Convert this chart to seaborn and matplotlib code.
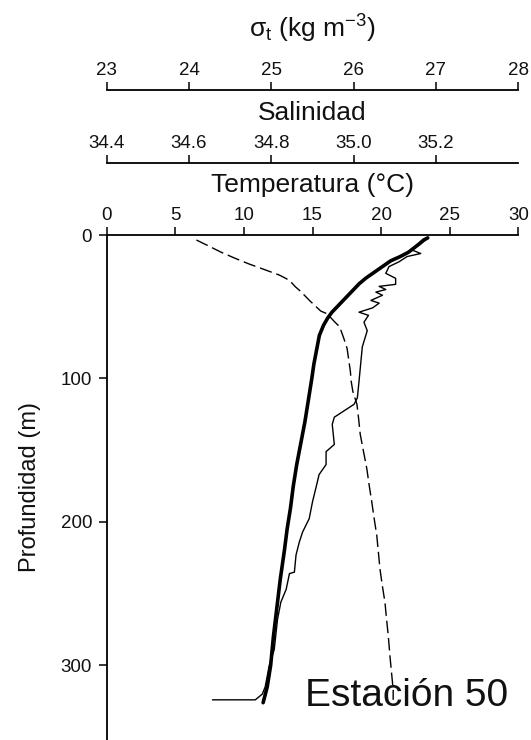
import matplotlib
matplotlib.use("Agg")
import matplotlib.pyplot as plt
import matplotlib.ticker as mticker
import seaborn as sns
import pandas as pd

# ---------------- data ----------------
depth_temp = [2, 3.5, 6, 9, 12, 15, 18, 22, 26, 30, 34, 38, 42, 46, 50, 54, 58, 63, 70, 80,
              90, 100, 115, 130, 145, 160, 175, 190, 205, 220, 240, 260, 280, 300, 315, 326]
temperatura = [23.4, 23.1, 22.8, 22.4, 22.0, 21.4, 20.7, 20.1, 19.5, 18.9, 18.4, 18.0, 17.6, 17.2,
               16.8, 16.4, 16.1, 15.8, 15.5, 15.3, 15.1, 14.95, 14.7, 14.45, 14.15, 13.85, 13.6,
               13.4, 13.15, 12.95, 12.65, 12.4, 12.15, 11.95, 11.7, 11.4]

depth_sal = [3.5, 7, 10.5, 12.9, 15, 18.7, 22, 26.7, 30.2, 34.4, 35.8, 38, 39.8, 42, 45.6, 47.5,
             50.8, 53.8, 56, 60.8, 66.7, 78, 90, 102, 113.5, 118, 127, 132, 146, 151, 160, 167,
             176.6, 186, 197.7, 207, 214, 223, 235, 236, 247, 256, 268, 289, 300, 315, 320, 324, 324]
salinidad = [35.175, 35.159, 35.142, 35.163, 35.13, 35.11, 35.086, 35.078, 35.102, 35.102, 35.062,
             35.078, 35.054, 35.07, 35.042, 35.062, 35.046, 35.013, 35.036, 35.025, 35.033, 35.021,
             35.017, 35.013, 35.009, 35.001, 34.953, 34.948, 34.953, 34.933, 34.933, 34.916, 34.908,
             34.90, 34.892, 34.876, 34.868, 34.86, 34.856, 34.844, 34.836, 34.823, 34.815, 34.807,
             34.795, 34.785, 34.778, 34.761, 34.657]

depth_sigma = [3.5, 8, 12, 16, 20, 24.6, 28, 31.6, 36, 39, 46, 53, 55, 60, 64, 72, 79, 87, 95,
               102, 109, 118, 128, 139, 151, 163, 175, 186, 198, 209, 221, 233, 245, 256, 268, 279,
               293, 305, 317, 324]
sigma_t = [24.09, 24.25, 24.39, 24.55, 24.72, 24.94, 25.10, 25.22, 25.29, 25.35, 25.47, 25.60, 25.68,
           25.76, 25.83, 25.88, 25.92, 25.94, 25.96, 25.97, 25.99, 26.04, 26.06, 26.08, 26.12, 26.16,
           26.19, 26.22, 26.25, 26.28, 26.30, 26.32, 26.35, 26.38, 26.40, 26.42, 26.44, 26.46, 26.48,
           26.48]

temp_ticks = [0, 5, 10, 15, 20, 25, 30]
sal_ticks = [34.4, 34.6, 34.8, 35.0, 35.2]
sigma_ticks = [23, 24, 25, 26, 27, 28]
depth_ticks = [0, 100, 200, 300]

df_t = pd.DataFrame({"depth": depth_temp, "val": temperatura})
df_s = pd.DataFrame({"depth": depth_sal, "val": salinidad})
df_g = pd.DataFrame({"depth": depth_sigma, "val": sigma_t})

# ---------------- style ----------------
sns.set_theme(style="white")
plt.rcParams["font.family"] = ["Liberation Sans", "DejaVu Sans"]
plt.rcParams["mathtext.fontset"] = "custom"
plt.rcParams["mathtext.rm"] = "Liberation Sans"
plt.rcParams["mathtext.it"] = "Liberation Sans:italic"
plt.rcParams["mathtext.default"] = "regular"

W, H = 531, 740
fig = plt.figure(figsize=(W / 100, H / 100), dpi=100)
ax_left, ax_w = 106.7 / W, 411.6 / W
ax_h = 505 / H
ax = fig.add_axes([ax_left, 0.0, ax_w, ax_h])

tick_kw = dict(colors="black", labelcolor="#111111", labelsize=13.5, width=1.1)

# temperature (main axis)
sns.lineplot(data=df_t, x="val", y="depth", sort=False, estimator=None,
             color="black", lw=2.6, ax=ax)
ax.set_xlim(0, 30)
ax.set_ylim(352, 0)

# salinity
ax_s = ax.twiny()
sns.lineplot(data=df_s, x="val", y="depth", sort=False, estimator=None,
             color="black", lw=1.0, ax=ax_s)
ax_s.set_xlim(34.4, 35.4)
ax_s.set_ylim(352, 0)

# sigma-t
ax_g = ax.twiny()
sns.lineplot(data=df_g, x="val", y="depth", sort=False, estimator=None,
             color="black", lw=1.0, ax=ax_g)
ax_g.lines[0].set_dashes((9, 3.5))
ax_g.set_xlim(23, 28)
ax_g.set_ylim(352, 0)

# main axis formatting (after twins, which reset main ticks to bottom)
ax.xaxis.tick_top()
ax.set_xticks(temp_ticks)
ax.set_yticks(depth_ticks)
ax.tick_params(axis="x", which="both", top=True, bottom=False, labeltop=True,
               labelbottom=False, direction="out", length=6, pad=2, **tick_kw)
ax.tick_params(axis="y", left=True, direction="out", length=5.5, pad=5, **tick_kw)
for s in ["right", "bottom"]:
    ax.spines[s].set_visible(False)
for s in ["left", "top"]:
    ax.spines[s].set_color("black")
    ax.spines[s].set_linewidth(1.3)
ax.set_xlabel("")
ax.set_ylabel("Profundidad (m)", fontsize=17, labelpad=14, color="#111111")

ax_s.xaxis.set_major_locator(mticker.FixedLocator(sal_ticks))
ax_s.xaxis.set_major_formatter(mticker.FormatStrFormatter("%.1f"))
ax_s.tick_params(axis="x", top=True, bottom=False, labeltop=True, labelbottom=False,
                 direction="out", length=6, pad=2, **tick_kw)
for s in ["right", "bottom", "left"]:
    ax_s.spines[s].set_visible(False)
ax_s.spines["top"].set_position(("axes", 1 + 72 / 505))
ax_s.spines["top"].set_color("black")
ax_s.spines["top"].set_linewidth(1.3)
ax_s.set_xlabel("")
ax_s.set_ylabel("")

ax_g.set_xticks(sigma_ticks)
ax_g.tick_params(axis="x", top=True, bottom=False, labeltop=True, labelbottom=False,
                 direction="out", length=6, pad=2, **tick_kw)
for s in ["right", "bottom", "left"]:
    ax_g.spines[s].set_visible(False)
ax_g.spines["top"].set_position(("axes", 1 + 145 / 505))
ax_g.spines["top"].set_color("black")
ax_g.spines["top"].set_linewidth(1.3)
ax_g.set_xlabel("")
ax_g.set_ylabel("")

# axis titles
def ay(row):
    return (H - row) / 505

ax.text(0.5, ay(192), "Temperatura (°C)", transform=ax.transAxes, ha="center",
        va="baseline", fontsize=19, color="#111111")
ax.text(0.5, ay(120), "Salinidad", transform=ax.transAxes, ha="center",
        va="baseline", fontsize=19, color="#111111")
ax.text(0.5, ay(38), r"$σ_t$ (kg m$^{-3}$)", transform=ax.transAxes, ha="center",
        va="baseline", fontsize=19, color="#111111")
ax.text((305 - 106.7) / 411.6, ay(706), "Estación 50", transform=ax.transAxes, ha="left",
        va="baseline", fontsize=28, color="#111111")

fig.savefig("out.png", dpi=100)
